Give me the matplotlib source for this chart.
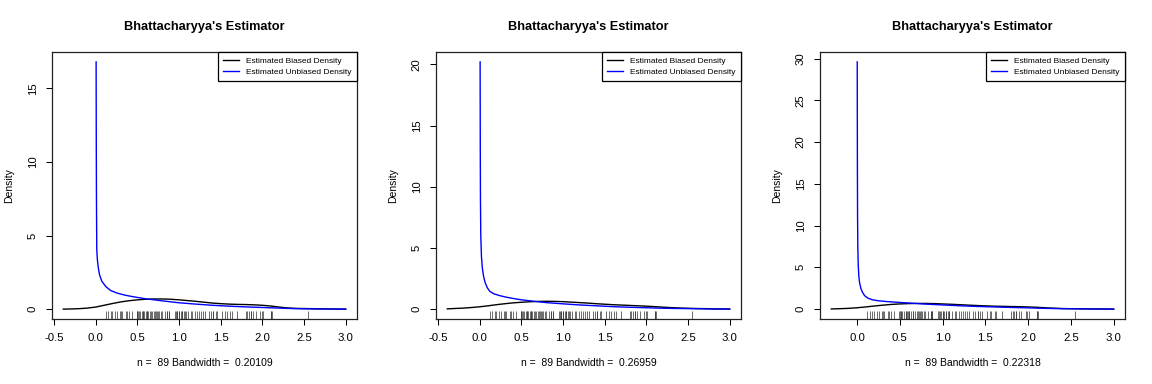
import matplotlib
matplotlib.use("Agg")
import matplotlib.pyplot as plt

plt.rcParams['font.family'] = ['Liberation Sans', 'DejaVu Sans']

# observed sample (rug), same in all three panels
rug_x = sorted([
    0.12, 0.15, 0.18, 0.20, 0.23, 0.26, 0.29, 0.30, 0.32, 0.36, 0.38, 0.40,
    0.43, 0.49, 0.50, 0.51, 0.52, 0.53, 0.55, 0.57, 0.57, 0.58, 0.60, 0.61,
    0.61, 0.63, 0.65, 0.66, 0.68, 0.70, 0.71, 0.72, 0.74, 0.75, 0.76, 0.78,
    0.80, 0.83, 0.86, 0.86, 0.88, 0.88, 0.95, 0.96, 0.97, 0.98, 1.00, 1.00,
    1.02, 1.04, 1.04, 1.06, 1.07, 1.08, 1.11, 1.14, 1.16, 1.19, 1.21, 1.24,
    1.26, 1.29, 1.31, 1.36, 1.38, 1.41, 1.41, 1.44, 1.46, 1.52, 1.55, 1.57,
    1.61, 1.63, 1.69, 1.80, 1.82, 1.84, 1.86, 1.86, 1.89, 1.92, 1.97, 1.99,
    2.01, 2.10, 2.10, 2.12, 2.55,
])

bandwidths = [0.20109, 0.26959, 0.22318]

# biased density curves
biased_x1 = [-0.39, -0.3, -0.2, -0.1, 0.0, 0.1, 0.2, 0.3, 0.4, 0.5, 0.6, 0.7, 0.8, 0.9,
             1.0, 1.1, 1.2, 1.3, 1.4, 1.5, 1.6, 1.7, 1.8, 1.9, 2.0, 2.1, 2.2, 2.3,
             2.4, 2.5, 2.6, 2.7, 2.8, 3.0]
biased_y1 = [0.0, 0.01, 0.03, 0.07, 0.14, 0.26, 0.38, 0.49, 0.57, 0.63, 0.67, 0.69, 0.69, 0.67,
             0.63, 0.58, 0.53, 0.47, 0.41, 0.37, 0.34, 0.32, 0.31, 0.29, 0.26, 0.21, 0.14, 0.08,
             0.05, 0.04, 0.03, 0.02, 0.01, 0.0]

biased_x2 = biased_x1
biased_y2 = [0.02, 0.05, 0.08, 0.13, 0.19, 0.27, 0.36, 0.44, 0.51, 0.56, 0.60, 0.63, 0.64, 0.63,
             0.61, 0.57, 0.53, 0.49, 0.44, 0.40, 0.36, 0.33, 0.30, 0.27, 0.24, 0.20, 0.16, 0.12,
             0.09, 0.07, 0.05, 0.04, 0.02, 0.01]

biased_x3 = [-0.3, -0.2, -0.1, 0.0, 0.1, 0.2, 0.3, 0.4, 0.5, 0.6, 0.7, 0.8, 0.9,
             1.0, 1.1, 1.2, 1.3, 1.4, 1.5, 1.6, 1.7, 1.8, 1.9, 2.0, 2.1, 2.2, 2.3,
             2.4, 2.5, 2.6, 2.7, 2.8, 2.9, 3.0]
biased_y3 = [0.02, 0.05, 0.09, 0.16, 0.26, 0.37, 0.47, 0.56, 0.62, 0.66, 0.68, 0.68, 0.66,
             0.62, 0.58, 0.53, 0.48, 0.43, 0.39, 0.35, 0.33, 0.31, 0.29, 0.26, 0.22, 0.16, 0.11,
             0.07, 0.05, 0.04, 0.03, 0.02, 0.01, 0.0]

# unbiased (Bhattacharyya) density curves
unbiased_x1 = [0.004, 0.006, 0.008, 0.012, 0.02, 0.028, 0.044, 0.072, 0.12, 0.18, 0.26, 0.35,
               0.44, 0.6, 0.8, 1.0, 1.2, 1.4, 1.6, 1.8, 2.0, 2.2, 2.4, 2.6, 2.8, 3.0]
unbiased_y1 = [16.8, 11.0, 7.5, 4.0, 3.3, 2.9, 2.35, 1.9, 1.53, 1.26, 1.08, 0.95,
               0.85, 0.7, 0.56, 0.43, 0.34, 0.26, 0.2, 0.15, 0.11, 0.07, 0.03, 0.015, 0.005, 0.0]

unbiased_x2 = [0.004, 0.006, 0.008, 0.012, 0.02, 0.03, 0.045, 0.065, 0.09, 0.12, 0.17, 0.24,
               0.32, 0.4, 0.5, 0.6, 0.7, 0.8, 1.0, 1.2, 1.4, 1.6, 1.8, 2.0, 2.2, 2.4,
               2.6, 2.8, 3.0]
unbiased_y2 = [20.2, 13.0, 9.0, 6.0, 4.3, 3.4, 2.7, 2.15, 1.75, 1.45, 1.25, 1.1,
               0.97, 0.87, 0.76, 0.68, 0.6, 0.53, 0.43, 0.34, 0.27, 0.2, 0.15, 0.11, 0.07, 0.05,
               0.03, 0.01, 0.0]

unbiased_x3 = [0.003, 0.005, 0.007, 0.01, 0.015, 0.022, 0.03, 0.045, 0.065, 0.09, 0.13, 0.18,
               0.25, 0.35, 0.5, 0.65, 0.8, 1.0, 1.2, 1.4, 1.6, 1.8, 2.0, 2.2, 2.4, 2.6,
               2.8, 3.0]
unbiased_y3 = [29.6, 17.0, 11.0, 7.5, 5.2, 3.9, 3.2, 2.5, 2.0, 1.6, 1.3, 1.12,
               1.0, 0.9, 0.8, 0.7, 0.6, 0.5, 0.4, 0.32, 0.26, 0.2, 0.15, 0.09, 0.05, 0.03,
               0.01, 0.0]

panels = [
    (biased_x1, biased_y1, unbiased_x1, unbiased_y1, [-0.5, 0.0, 0.5, 1.0, 1.5, 2.0, 2.5, 3.0], [0, 5, 10, 15]),
    (biased_x2, biased_y2, unbiased_x2, unbiased_y2, [-0.5, 0.0, 0.5, 1.0, 1.5, 2.0, 2.5, 3.0], [0, 5, 10, 15, 20]),
    (biased_x3, biased_y3, unbiased_x3, unbiased_y3, [0.0, 0.5, 1.0, 1.5, 2.0, 2.5, 3.0], [0, 5, 10, 15, 20, 25, 30]),
]

W, H = 1152, 384
fig = plt.figure(figsize=(W / 100, H / 100), dpi=100)


def r_range(lo, hi):
    # R style 4% padding
    d = (hi - lo) * 0.04
    return lo - d, hi + d


for i, (bx, by, ux, uy, xt, yt) in enumerate(panels):
    left = 52 + 384 * i
    ax = fig.add_axes([left / W, 65 / H, 305 / W, 267 / H])
    ax.plot(bx, by, color='black', lw=1.0, label='Estimated Biased Density')
    ax.plot(ux, uy, color='blue', lw=1.0, label='Estimated Unbiased Density')
    ax.vlines(rug_x, 0, 0.03, transform=ax.get_xaxis_transform(), color='#333333', lw=0.5)

    ax.set_xlim(*r_range(min(bx[0], ux[0]), max(bx[-1], ux[-1])))
    ax.set_ylim(*r_range(0, max(max(by), max(uy))))
    ax.set_xticks(xt)
    ax.set_xticklabels([f"{v:.1f}" for v in xt])
    ax.set_yticks(yt)
    ax.set_yticklabels([str(v) for v in yt])
    ax.tick_params(direction='out', length=4.3, width=0.75, labelsize=8.2, pad=6)
    ax.tick_params(axis='y', labelrotation=90)
    for lab in ax.get_yticklabels():
        lab.set_va('center')
    for sp in ax.spines.values():
        sp.set_linewidth(0.9)
        sp.set_color('#222222')

    ax.set_title("Bhattacharyya's Estimator", fontsize=9.2, fontweight='bold', pad=15.5)
    ax.set_ylabel('Density', fontsize=7.5)
    ax.yaxis.set_label_coords(-0.125, 0.5)
    ax.set_xlabel(f"n =  {len(rug_x)} Bandwidth =  {bandwidths[i]:.5f}", fontsize=7.5)
    ax.xaxis.set_label_coords(0.5, -0.145)

    leg = ax.legend(loc='upper right', fontsize=6, frameon=True, fancybox=False,
                    framealpha=1, edgecolor='black', borderaxespad=0, borderpad=0.65,
                    labelspacing=0.3, handlelength=1.9, handletextpad=0.85)
    leg.get_frame().set_linewidth(0.9)

fig.savefig('out.png', dpi=100)
